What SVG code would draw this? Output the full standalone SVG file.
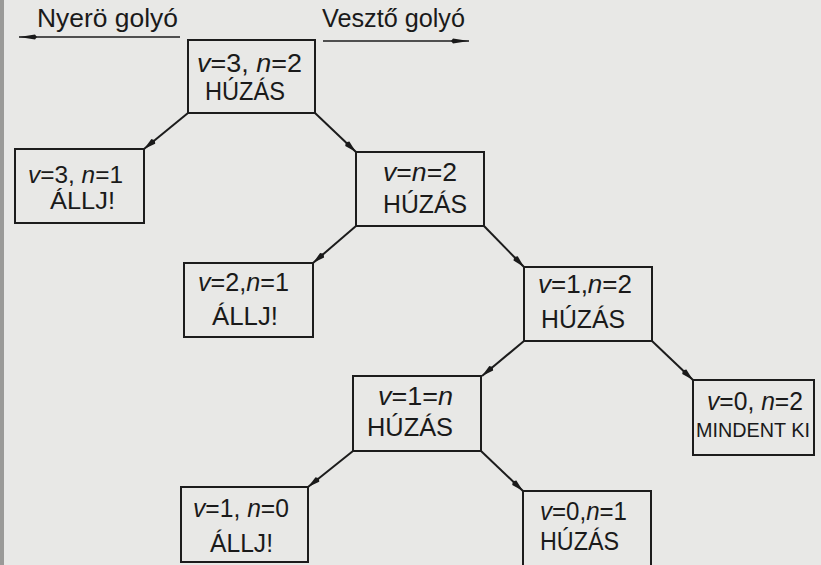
<svg xmlns="http://www.w3.org/2000/svg" width="821" height="565" viewBox="0 0 821 565">
  <defs>
    <marker id="ah" viewBox="0 0 14 8" refX="14" refY="4" markerWidth="14" markerHeight="8" markerUnits="userSpaceOnUse" orient="auto">
      <path d="M0,4 L2,1 L14,4 L2,7 z" fill="#1a1a1a"/>
    </marker>
    <marker id="ah2" viewBox="0 0 18 7" refX="18" refY="3.5" markerWidth="18" markerHeight="7" markerUnits="userSpaceOnUse" orient="auto">
      <path d="M0,3.5 L2,1 L18,3.5 L2,6 z" fill="#1a1a1a"/>
    </marker>
    <style>
      .bg { fill: #e8e8e6; }
      .box { fill: none; stroke: #1c1c1c; stroke-width: 2; }
      .edge { fill: none; stroke: #1c1c1c; stroke-width: 2; marker-end: url(#ah); }
      .top { fill: none; stroke: #1c1c1c; stroke-width: 1.6; marker-end: url(#ah2); }
      text { font-family: "Liberation Sans", "DejaVu Sans", sans-serif; font-size: 25px; fill: #1a1a1a; }
      .s { font-size: 23px; }
      .xs { font-size: 21px; }
      .i { font-style: italic; }
    </style>
  </defs>
  <rect class="bg" x="0" y="0" width="821" height="565"/>
  <rect x="0" y="0" width="4" height="565" fill="#9a9a98"/>

  <g id="labels">
    <text x="37" y="27" textLength="141" lengthAdjust="spacingAndGlyphs">Nyerö golyó</text>
    <text x="322" y="27" textLength="143" lengthAdjust="spacingAndGlyphs">Vesztő golyó</text>
  </g>

  <g id="connectors">
    <line class="top" x1="180" y1="37" x2="19" y2="37"/>
    <line class="top" x1="323" y1="41" x2="469" y2="41"/>
    <line class="edge" x1="188" y1="113" x2="144" y2="149"/>
    <line class="edge" x1="315" y1="113" x2="356" y2="152"/>
    <line class="edge" x1="356" y1="226" x2="313" y2="263"/>
    <line class="edge" x1="484" y1="226" x2="524" y2="267"/>
    <line class="edge" x1="524" y1="341" x2="482" y2="376"/>
    <line class="edge" x1="652" y1="341" x2="693" y2="380"/>
    <line class="edge" x1="353" y1="451" x2="308" y2="487"/>
    <line class="edge" x1="481" y1="451" x2="523" y2="491"/>
  </g>

  <g id="n1">
    <rect class="box" x="188" y="40" width="127" height="73"/>
    <text x="197" y="72" textLength="105" lengthAdjust="spacingAndGlyphs"><tspan class="i">v</tspan>=3, <tspan class="i">n</tspan>=2</text>
    <text x="205" y="100" textLength="80" lengthAdjust="spacingAndGlyphs">HÚZÁS</text>
  </g>
  <g id="n2">
    <rect class="box" x="15" y="149" width="129" height="74"/>
    <text class="s" x="28" y="183" textLength="95" lengthAdjust="spacingAndGlyphs"><tspan class="i">v</tspan>=3, <tspan class="i">n</tspan>=1</text>
    <text class="s" x="50" y="209" textLength="65" lengthAdjust="spacingAndGlyphs">ÁLLJ!</text>
  </g>
  <g id="n3">
    <rect class="box" x="356" y="152" width="128" height="74"/>
    <text x="383" y="181" textLength="74" lengthAdjust="spacingAndGlyphs"><tspan class="i">v</tspan>=<tspan class="i">n</tspan>=2</text>
    <text x="383" y="213" textLength="84" lengthAdjust="spacingAndGlyphs">HÚZÁS</text>
  </g>
  <g id="n4">
    <rect class="box" x="184" y="263" width="129" height="74"/>
    <text x="198" y="291" textLength="91" lengthAdjust="spacingAndGlyphs"><tspan class="i">v</tspan>=2,<tspan class="i">n</tspan>=1</text>
    <text x="212" y="325" textLength="66" lengthAdjust="spacingAndGlyphs">ÁLLJ!</text>
  </g>
  <g id="n5">
    <rect class="box" x="524" y="267" width="128" height="74"/>
    <text x="538" y="293" textLength="94" lengthAdjust="spacingAndGlyphs"><tspan class="i">v</tspan>=1,<tspan class="i">n</tspan>=2</text>
    <text x="541" y="328" textLength="84" lengthAdjust="spacingAndGlyphs">HÚZÁS</text>
  </g>
  <g id="n6">
    <rect class="box" x="353" y="376" width="128" height="75"/>
    <text x="378" y="405" textLength="75" lengthAdjust="spacingAndGlyphs"><tspan class="i">v</tspan>=1=<tspan class="i">n</tspan></text>
    <text x="367" y="436" textLength="86" lengthAdjust="spacingAndGlyphs">HÚZÁS</text>
  </g>
  <g id="n7">
    <rect class="box" x="693" y="380" width="121" height="75"/>
    <text x="707" y="410" textLength="96" lengthAdjust="spacingAndGlyphs"><tspan class="i">v</tspan>=0, <tspan class="i">n</tspan>=2</text>
    <text class="xs" x="696" y="437" textLength="114" lengthAdjust="spacingAndGlyphs">MINDENT KI</text>
  </g>
  <g id="n8">
    <rect class="box" x="181" y="487" width="127" height="75"/>
    <text x="193" y="517" textLength="96" lengthAdjust="spacingAndGlyphs"><tspan class="i">v</tspan>=1, <tspan class="i">n</tspan>=0</text>
    <text x="210" y="552" textLength="63" lengthAdjust="spacingAndGlyphs">ÁLLJ!</text>
  </g>
  <g id="n9">
    <rect class="box" x="523" y="491" width="128" height="80"/>
    <text x="540" y="520" textLength="87" lengthAdjust="spacingAndGlyphs"><tspan class="i">v</tspan>=0,<tspan class="i">n</tspan>=1</text>
    <text x="540" y="550" textLength="79" lengthAdjust="spacingAndGlyphs">HÚZÁS</text>
  </g>
</svg>
